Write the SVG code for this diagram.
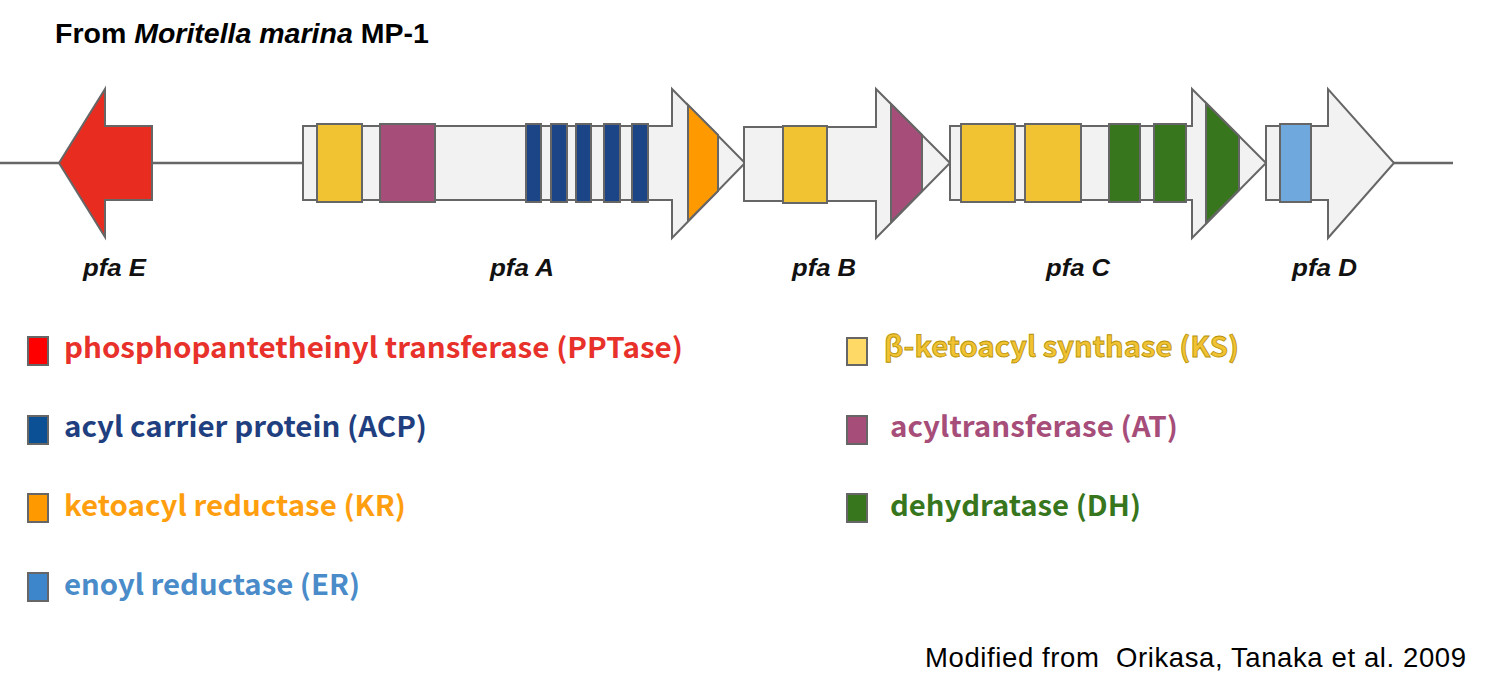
<svg xmlns="http://www.w3.org/2000/svg" width="1496" height="691" viewBox="0 0 1496 691">
<style>
.g{fill:#F2F2F2;stroke:#666;stroke-width:2;stroke-linejoin:miter}
.d{stroke:#666;stroke-width:2}
.ln{stroke:#666;stroke-width:2.5;fill:none}
.ks{fill:#F1C232}.at{fill:#A64D79}.acp{fill:#1C4587}.kr{fill:#FF9900}.dh{fill:#38761D}.er{fill:#6FA8DC}
.lab{font-family:"Liberation Sans",Arial,sans-serif;font-weight:bold;font-style:italic;font-size:23px;fill:#111}
.leg{font-family:"Noto Sans CJK JP","Noto Sans",sans-serif;font-weight:bold;font-size:28px}
.sw{stroke:#666;stroke-width:2}
</style>
<rect width="1496" height="691" fill="#fff"/>
<text x="55" y="43" font-family="'Liberation Sans',Arial,sans-serif" font-weight="bold" font-size="28.5" fill="#000">From <tspan font-style="italic">Moritella marina</tspan> MP-1</text>
<g id="connectors">
<line class="ln" x1="0" y1="163" x2="59" y2="163"/>
<line class="ln" x1="152" y1="163" x2="304" y2="163"/>
<line class="ln" x1="1394" y1="163" x2="1453" y2="163"/>
</g>
<g id="pfaE">
<polygon points="152,126 105,126 105,89 59,163 105,237 105,200 152,200" fill="#E82C20" stroke="#666" stroke-width="2"/>
<text class="lab" x="83" y="276" textLength="63" lengthAdjust="spacingAndGlyphs">pfa E</text>
</g>
<g id="pfaA">
<polygon class="g" points="303,126 672,126 672,89 745,163 672,238 672,200 303,200"/>
<rect class="d ks" x="317" y="124" width="45" height="78"/>
<rect class="d at" x="380" y="124" width="55" height="78"/>
<rect class="d acp" x="526" y="124" width="15" height="78"/>
<rect class="d acp" x="551" y="124" width="16" height="78"/>
<rect class="d acp" x="576" y="124" width="15" height="78"/>
<rect class="d acp" x="604" y="124" width="16" height="78"/>
<rect class="d acp" x="632" y="124" width="16" height="78"/>
<polygon class="d kr" points="688,105 718,135 718,191 688,221"/>
<text class="lab" x="490" y="276" textLength="64" lengthAdjust="spacingAndGlyphs">pfa A</text>
</g>
<g id="pfaB">
<polygon class="g" points="744,127 876,127 876,89 950,163 876,238 876,201 744,201"/>
<rect class="d ks" x="783" y="126" width="44" height="77"/>
<polygon class="d at" points="891,104 922,135 922,191 891,222"/>
<text class="lab" x="792" y="276" textLength="64" lengthAdjust="spacingAndGlyphs">pfa B</text>
</g>
<g id="pfaC">
<polygon class="g" points="950,126 1192,126 1192,89 1266,163 1192,238 1192,200 950,200"/>
<rect class="d ks" x="961" y="124" width="54" height="78"/>
<rect class="d ks" x="1025" y="124" width="56" height="78"/>
<rect class="d dh" x="1109" y="124" width="31" height="78"/>
<rect class="d dh" x="1154" y="124" width="32" height="78"/>
<polygon class="d dh" points="1206,103 1239,136 1239,190 1206,223"/>
<text class="lab" x="1046" y="276" textLength="64" lengthAdjust="spacingAndGlyphs">pfa C</text>
</g>
<g id="pfaD">
<polygon class="g" points="1266,126 1328,126 1328,89 1394,163 1328,238 1328,200 1266,200"/>
<rect class="d er" x="1280" y="124" width="31" height="78"/>
<text class="lab" x="1292" y="276" textLength="65" lengthAdjust="spacingAndGlyphs">pfa D</text>
</g>
<g id="legend-pptase">
<rect class="sw" x="28" y="337" width="20" height="28" fill="#FF0000"/>
<text class="leg" x="64" y="358" fill="#E8312A" textLength="619" lengthAdjust="spacingAndGlyphs">phosphopantetheinyl transferase (PPTase)</text>
</g>
<g id="legend-acp">
<rect class="sw" x="28" y="416" width="20" height="28" fill="#0B4F94"/>
<text class="leg" x="64" y="437" fill="#1F3F80" textLength="363" lengthAdjust="spacingAndGlyphs">acyl carrier protein (ACP)</text>
</g>
<g id="legend-kr">
<rect class="sw" x="28" y="494" width="20" height="28" fill="#FF9900"/>
<text class="leg" x="64" y="516" fill="#FF9F0F" textLength="342" lengthAdjust="spacingAndGlyphs">ketoacyl reductase (KR)</text>
</g>
<g id="legend-er">
<rect class="sw" x="28" y="573" width="20" height="28" fill="#3E86CC"/>
<text class="leg" x="64" y="595" fill="#4A8BC9" textLength="296" lengthAdjust="spacingAndGlyphs">enoyl reductase (ER)</text>
</g>
<g id="legend-ks">
<rect class="sw" x="847" y="338" width="20" height="27" fill="#FFD966"/>
<text class="leg" x="884" y="357" fill="#F1C232" stroke="#B8930A" stroke-width="0.8" textLength="355" lengthAdjust="spacingAndGlyphs">β-ketoacyl synthase (KS)</text>
</g>
<g id="legend-at">
<rect class="sw" x="847" y="416" width="20" height="28" fill="#A64D79"/>
<text class="leg" x="890" y="437" fill="#A64D79" textLength="288" lengthAdjust="spacingAndGlyphs">acyltransferase (AT)</text>
</g>
<g id="legend-dh">
<rect class="sw" x="847" y="494" width="20" height="28" fill="#38761D"/>
<text class="leg" x="890" y="516" fill="#38761D" textLength="251" lengthAdjust="spacingAndGlyphs">dehydratase (DH)</text>
</g>
<text x="925" y="667" font-family="'Liberation Sans',Arial,sans-serif" font-size="27.5" fill="#000" textLength="541" lengthAdjust="spacing" xml:space="preserve">Modified from  Orikasa, Tanaka et al. 2009</text>
</svg>
